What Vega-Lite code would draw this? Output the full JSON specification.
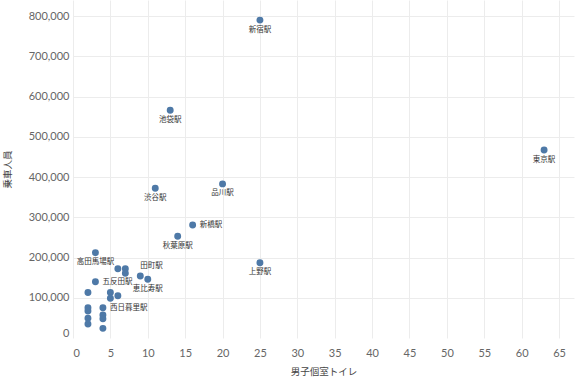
{
  "$schema": "https://vega.github.io/schema/vega-lite/v6.json",
  "width": 501,
  "height": 338,
  "autosize": {"type": "none"},
  "padding": {"left": 73, "top": 0, "right": 2, "bottom": 43},
  "background": "white",
  "config": {
    "view": {"stroke": null},
    "font": "Lato, Noto Sans CJK JP",
    "axis": {
      "labelFont": "Lato, Noto Sans CJK JP",
      "titleFont": "Noto Sans CJK JP",
      "labelColor": "#666666",
      "titleColor": "#444444",
      "labelFontSize": 11,
      "titleFontSize": 9.5,
      "titleFontWeight": "normal",
      "gridColor": "#ececec",
      "domain": false,
      "ticks": false
    }
  },
  "data": {
    "values": [
      {"駅": "新宿駅", "男子個室トイレ": 25, "乗車人員": 790000},
      {"駅": "池袋駅", "男子個室トイレ": 13, "乗車人員": 566000},
      {"駅": "東京駅", "男子個室トイレ": 63, "乗車人員": 467000},
      {"駅": "品川駅", "男子個室トイレ": 20, "乗車人員": 383000},
      {"駅": "渋谷駅", "男子個室トイレ": 11, "乗車人員": 372000},
      {"駅": "新橋駅", "男子個室トイレ": 16, "乗車人員": 281000},
      {"駅": "秋葉原駅", "男子個室トイレ": 14, "乗車人員": 253000},
      {"駅": "高田馬場駅", "男子個室トイレ": 3, "乗車人員": 212000},
      {"駅": "上野駅", "男子個室トイレ": 25, "乗車人員": 187000},
      {"駅": "", "男子個室トイレ": 6, "乗車人員": 172000},
      {"駅": "", "男子個室トイレ": 7, "乗車人員": 172000},
      {"駅": "", "男子個室トイレ": 7, "乗車人員": 161000},
      {"駅": "田町駅", "男子個室トイレ": 9, "乗車人員": 154000},
      {"駅": "恵比寿駅", "男子個室トイレ": 10, "乗車人員": 146000},
      {"駅": "五反田駅", "男子個室トイレ": 3, "乗車人員": 140000},
      {"駅": "", "男子個室トイレ": 2, "乗車人員": 113000},
      {"駅": "", "男子個室トイレ": 5, "乗車人員": 113000},
      {"駅": "", "男子個室トイレ": 6, "乗車人員": 105000},
      {"駅": "", "男子個室トイレ": 5, "乗車人員": 99000},
      {"駅": "西日暮里駅", "男子個室トイレ": 4, "乗車人員": 75000},
      {"駅": "", "男子個室トイレ": 2, "乗車人員": 75000},
      {"駅": "", "男子個室トイレ": 2, "乗車人員": 67000},
      {"駅": "", "男子個室トイレ": 2, "乗車人員": 49000},
      {"駅": "", "男子個室トイレ": 2, "乗車人員": 35000},
      {"駅": "", "男子個室トイレ": 4, "乗車人員": 57000},
      {"駅": "", "男子個室トイレ": 4, "乗車人員": 48000},
      {"駅": "", "男子個室トイレ": 4, "乗車人員": 24000}
    ]
  },
  "encoding": {
    "x": {
      "field": "男子個室トイレ",
      "type": "quantitative",
      "scale": {"domain": [0, 67], "nice": false, "zero": true},
      "axis": {"values": [0,5,10,15,20,25,30,35,40,45,50,55,60,65], "labelPadding": 9, "titlePadding": 8, "labelFlush": true}
    },
    "y": {
      "field": "乗車人員",
      "type": "quantitative",
      "scale": {"domain": [0, 840000], "nice": false},
      "axis": {
        "values": [0,100000,200000,300000,400000,500000,600000,700000,800000],
        "format": ",d",
        "labelPadding": 4,
        "titlePadding": 16,
        "labelFlush": true,
        "gridOpacity": {"condition": {"test": "datum.value === 0", "value": 0}, "value": 1}
      }
    }
  },
  "layer": [
    {
      "mark": {"type": "circle", "size": 48, "color": "#4e79a7", "opacity": 1}
    },
    {
      "transform": [{"filter": {"field": "駅", "oneOf": ["新宿駅","池袋駅","東京駅","品川駅","渋谷駅","秋葉原駅","高田馬場駅","上野駅","恵比寿駅"]}}],
      "mark": {"type": "text", "font": "Noto Sans CJK JP", "fontSize": 7.5, "color": "#333333", "align": "center", "baseline": "middle", "dy": 9.5},
      "encoding": {"text": {"field": "駅"}}
    },
    {
      "transform": [{"filter": {"field": "駅", "oneOf": ["新橋駅","五反田駅","西日暮里駅"]}}],
      "mark": {"type": "text", "font": "Noto Sans CJK JP", "fontSize": 7.5, "color": "#333333", "align": "left", "baseline": "middle", "dx": 7},
      "encoding": {"text": {"field": "駅"}}
    },
    {
      "transform": [{"filter": {"field": "駅", "oneOf": ["田町駅"]}}],
      "mark": {"type": "text", "font": "Noto Sans CJK JP", "fontSize": 7.5, "color": "#333333", "align": "left", "baseline": "middle", "dx": 0, "dy": -10},
      "encoding": {"text": {"field": "駅"}}
    }
  ]
}
